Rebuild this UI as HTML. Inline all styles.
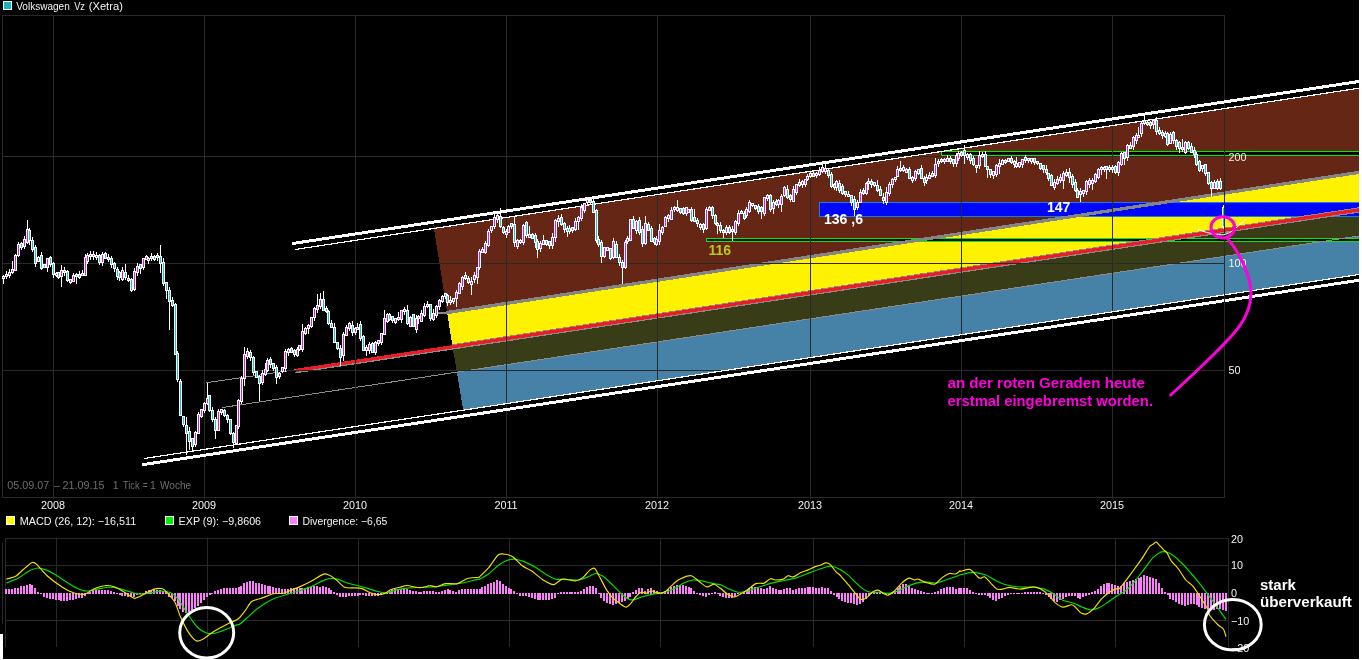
<!DOCTYPE html>
<html lang="de"><head><meta charset="utf-8"><title>Volkswagen Vz (Xetra)</title>
<style>html,body{margin:0;padding:0;background:#fff}body{width:1362px;height:660px;overflow:hidden}svg{display:block}</style>
</head><body>
<svg width="1362" height="660" viewBox="0 0 1362 660" font-family="'Liberation Sans', Arial, sans-serif">
<rect width="1362" height="660" fill="#fff"/>
<rect x="0" y="0" width="1359" height="659" fill="#000"/>
<rect x="0" y="634" width="3" height="26" fill="#fff"/>
<g shape-rendering="crispEdges">
<polygon points="433.3,224.5 436.5,228.0 1359.5,88.1 1359.5,172.3 447.2,312.5" fill="#662616"/>
<polygon points="447.2,312.5 1359.5,172.3 1359.5,209.8 452.5,346.8" fill="#fff200"/>
<polygon points="452.5,346.8 1359.5,209.8 1359.5,235.9 456.9,372.1" fill="#383d17"/>
<polygon points="456.9,372.1 1359.5,235.9 1359.5,274.4 463.2,410.2" fill="#4682a8"/>
<rect x="819.5" y="202.5" width="545" height="13.5" fill="#0006f8" stroke="#1a7ae0" stroke-width="1"/>
<rect x="941.5" y="151.5" width="430" height="4" fill="#000" stroke="#00ee00" stroke-width="1"/>
<rect x="706.5" y="238.5" width="660" height="3" fill="#000" stroke="#00ee00" stroke-width="1"/>
<path d="M437.5,313 L447,313" stroke="#8a8a8a" stroke-width="1.6"/>
<line x1="446" y1="312.7" x2="1359.5" y2="172.3" stroke="#858585" stroke-width="3.3"/>
<line x1="206.4" y1="382.7" x2="297" y2="369.6" stroke="#8c8c8c" stroke-width="1"/>
<line x1="295" y1="372.6" x2="1359.5" y2="211.8" stroke="#8a8a8a" stroke-width="1.6"/>
<line x1="452.5" y1="344.8" x2="1359.5" y2="207.8" stroke="#8a8a90" stroke-width="1.2"/>
<line x1="222" y1="407.6" x2="1359.5" y2="235.9" stroke="#8c8c8c" stroke-width="1"/>
<line x1="296" y1="370.4" x2="1359.5" y2="209.8" stroke="#ed1c24" stroke-width="3.2"/>
</g>
<g stroke="#292929" stroke-width="1" shape-rendering="crispEdges" fill="none"><rect x="2.5" y="15.5" width="1222" height="482"/><line x1="53.5" y1="15" x2="53.5" y2="499"/><line x1="204.5" y1="15" x2="204.5" y2="499"/><line x1="355.5" y1="15" x2="355.5" y2="499"/><line x1="506.5" y1="15" x2="506.5" y2="499"/><line x1="657.5" y1="15" x2="657.5" y2="499"/><line x1="810.5" y1="15" x2="810.5" y2="499"/><line x1="961.5" y1="15" x2="961.5" y2="499"/><line x1="1112.5" y1="15" x2="1112.5" y2="499"/><line x1="2" y1="156.5" x2="1225" y2="156.5"/><line x1="2" y1="263.5" x2="1225" y2="263.5"/><line x1="2" y1="370.5" x2="1225" y2="370.5"/><path d="M5.5,647 V538.5 H1228.5 V647"/><line x1="56.5" y1="538" x2="56.5" y2="647"/><line x1="207.5" y1="538" x2="207.5" y2="647"/><line x1="358.5" y1="538" x2="358.5" y2="647"/><line x1="509.5" y1="538" x2="509.5" y2="647"/><line x1="660.5" y1="538" x2="660.5" y2="647"/><line x1="813.5" y1="538" x2="813.5" y2="647"/><line x1="964.5" y1="538" x2="964.5" y2="647"/><line x1="1115.5" y1="538" x2="1115.5" y2="647"/><line x1="5" y1="565.5" x2="1228" y2="565.5"/><line x1="5" y1="620.5" x2="1228" y2="620.5"/><line x1="2.5" y1="543" x2="2.5" y2="624"/></g>
<g shape-rendering="crispEdges">
<line x1="295" y1="249.5" x2="1359.5" y2="88.1" stroke="#fff" stroke-width="1.2"/>
<line x1="292" y1="243.6" x2="1359.5" y2="81.4" stroke="#fff" stroke-width="3"/>
<line x1="144.2" y1="458.5" x2="1359.5" y2="274.4" stroke="#fff" stroke-width="1.2"/>
<line x1="142.4" y1="464.7" x2="1359.5" y2="280.2" stroke="#fff" stroke-width="3"/>
</g>
<g shape-rendering="crispEdges">
<path d="M3,274.8V283.5M6,270.8V279.1M9,268.6V278.3M12,261.3V274.1M15,254.2V271.3M18,242.2V256.6M21,241.6V249.8M24,236.3V248.9M27,220.3V243.8M29,227.5V245.3M32,237.2V252.4M35,245.1V266.7M38,256.1V262.1M41,252.1V270.4M44,264.4V268.4M47,257.6V272.4M50,255.7V267.4M53,261.5V277.7M56,272.4V277.0M58,272.2V278.8M61,265.0V287.3M64,267.3V276.3M67,269.9V281.7M70,278.6V283.7M73,272.8V281.9M76,273.0V283.9M79,270.7V279.3M82,270.4V276.2M85,253.6V275.9M87,252.8V263.5M90,251.3V259.8M93,250.6V259.5M96,252.2V260.0M99,254.1V264.7M102,252.4V265.7M105,252.4V259.2M108,254.0V261.9M111,255.9V268.0M114,261.5V271.8M117,267.4V280.0M119,271.1V280.9M122,266.5V280.7M125,263.8V280.4M128,275.1V282.0M131,278.1V292.3M134,268.1V291.2M137,262.9V276.3M140,264.1V273.7M143,257.8V270.4M146,254.8V260.2M148,257.0V263.6M151,252.8V260.9M154,254.5V261.3M157,252.5V261.3M160,245.2V273.0M163,257.8V286.2M166,281.6V299.0M169,287.0V330.0M172,297.0V307.4M175,302.7V354.4M177,350.8V381.9M180,378.5V416.2M183,415.8V427.4M186,417.4V455.0M189,427.3V449.7M192,437.8V452.0M195,430.7V446.7M198,412.4V434.1M201,409.0V417.6M204,401.5V412.9M207,382.6V405.4M209,394.8V412.3M212,406.9V421.5M215,416.7V439.0M218,409.2V430.9M221,408.9V415.3M224,409.1V416.8M227,414.2V423.1M230,418.7V434.9M233,432.1V448.0M236,425.2V443.6M238,398.9V429.1M241,375.6V404.0M244,347.0V386.4M247,347.9V359.1M250,350.4V360.5M253,355.6V374.8M256,370.5V378.2M259,374.7V400.7M262,370.0V385.0M265,363.0V376.1M267,357.5V372.3M270,357.4V367.8M273,362.7V371.3M276,364.6V384.0M279,371.7V378.6M282,366.8V372.9M285,349.3V372.4M288,348.2V355.6M291,346.6V353.1M294,348.9V356.7M297,347.1V357.2M299,344.7V350.8M302,323.5V351.7M305,327.2V334.7M308,324.2V334.4M311,316.5V327.6M314,306.9V321.1M317,294.0V312.9M320,293.3V309.1M323,290.5V311.2M326,306.0V312.5M328,310.0V325.4M331,320.0V328.2M334,323.4V343.0M337,341.7V350.0M340,345.2V366.0M343,332.1V361.4M346,324.6V336.3M349,321.7V331.2M352,320.9V335.5M355,326.9V335.3M357,323.4V330.2M360,321.3V340.5M363,334.8V350.9M366,344.5V355.8M369,342.0V353.9M372,342.2V353.3M375,340.9V354.8M378,339.5V346.0M381,333.1V345.0M384,310.0V334.8M387,312.8V322.7M389,313.4V320.9M392,315.6V323.4M395,317.6V323.9M398,312.1V320.7M401,309.8V322.5M404,306.5V315.4M407,304.8V325.4M410,315.6V327.1M413,314.1V327.3M416,315.4V333.0M418,315.2V323.7M421,310.4V321.8M424,303.4V317.0M427,300.7V308.1M430,303.7V321.4M433,309.2V321.0M436,305.0V317.9M439,299.4V309.6M442,294.8V303.1M445,293.4V299.4M447,293.5V305.8M450,296.4V305.3M453,297.8V303.9M456,290.0V307.0M459,281.9V294.3M462,275.9V289.7M465,272.2V279.5M468,275.8V283.6M471,276.7V295.0M474,271.9V283.1M477,266.6V283.8M479,248.8V269.8M482,247.0V252.5M485,240.9V253.9M488,229.2V247.2M491,225.6V233.0M494,213.5V229.2M497,213.6V222.9M500,208.1V228.0M503,225.9V234.1M506,228.7V238.0M508,224.6V233.2M511,222.5V229.3M514,216.3V246.6M517,238.7V249.0M520,239.2V243.7M523,224.4V244.6M526,220.5V238.3M529,226.2V238.1M532,232.8V239.3M535,233.1V247.7M537,239.3V258.0M540,241.2V252.1M543,235.2V245.3M546,240.1V246.1M549,241.0V249.2M552,233.4V249.4M555,219.4V241.9M558,215.2V226.5M561,214.2V225.7M564,222.4V233.0M567,225.5V236.5M569,225.4V233.5M572,227.0V232.7M575,218.3V231.4M578,216.0V229.8M581,204.2V221.3M584,202.7V213.3M587,198.9V204.7M590,197.2V204.1M593,198.7V213.0M596,209.2V243.0M598,235.5V246.7M601,239.5V262.5M604,246.6V258.0M607,247.3V251.3M610,247.6V260.0M613,238.1V259.1M616,241.2V257.5M619,254.3V265.8M622,259.8V284.0M625,239.6V269.1M627,236.4V243.8M630,218.5V240.9M633,216.2V229.4M636,219.8V233.9M639,216.8V235.4M642,225.9V246.6M645,215.5V244.6M648,221.5V230.9M651,225.6V241.8M654,236.8V245.3M656,236.1V245.6M659,224.0V244.8M662,226.2V235.1M665,216.4V227.3M668,214.4V222.1M671,207.1V219.9M674,205.6V211.8M677,199.5V212.0M680,208.5V214.2M683,207.3V215.3M686,206.5V216.2M688,209.1V212.9M691,207.0V222.2M694,208.5V221.7M697,218.0V227.1M700,222.9V230.2M703,223.0V232.7M706,206.7V230.2M709,205.6V211.2M712,206.1V218.7M715,213.7V224.6M717,222.4V234.4M720,222.0V233.3M723,229.4V237.5M726,225.3V235.4M729,224.8V233.8M732,225.9V240.8M735,220.3V235.4M738,210.3V225.8M741,209.8V214.4M744,210.8V219.7M746,207.1V218.3M749,199.9V213.4M752,203.1V206.6M755,204.5V210.1M758,204.3V214.4M761,206.3V219.0M764,197.1V215.7M767,193.6V201.3M770,194.2V212.3M773,199.8V214.0M776,198.9V206.4M778,198.8V207.5M781,194.3V211.8M784,185.8V196.6M787,184.5V198.5M790,193.9V202.0M793,186.0V201.6M796,183.7V195.2M799,178.9V186.7M802,179.7V188.1M805,178.6V187.2M807,174.0V180.5M810,171.7V178.2M813,170.3V176.8M816,172.2V177.9M819,167.1V176.3M822,164.6V172.9M825,163.5V174.0M828,169.1V177.5M831,172.1V187.8M834,183.3V189.5M836,180.3V190.7M839,180.4V192.5M842,184.0V195.2M845,190.6V197.0M848,190.7V197.1M851,194.8V205.6M854,196.4V215.8M857,200.1V209.9M860,189.3V203.4M863,187.5V195.0M866,182.3V195.2M868,177.5V189.6M871,178.9V188.0M874,182.1V187.4M877,180.4V191.5M880,185.5V196.2M883,192.5V204.0M886,187.4V204.8M889,182.1V195.6M892,178.3V187.7M895,176.5V182.4M897,166.3V177.1M900,160.7V172.0M903,165.4V172.0M906,167.6V172.9M909,166.7V179.4M912,175.5V182.6M915,170.4V180.7M918,169.2V175.2M921,165.3V178.4M924,175.9V186.2M926,174.4V184.1M929,172.4V179.4M932,171.0V177.2M935,157.7V178.4M938,158.9V167.0M941,158.4V162.9M944,157.7V163.5M947,155.0V161.9M950,155.9V163.8M953,159.1V167.0M956,153.1V166.7M958,150.6V160.6M961,151.4V157.3M964,144.6V164.0M967,153.4V159.6M970,152.8V164.1M973,156.2V166.2M976,164.9V173.3M979,151.2V168.5M982,152.0V157.6M985,151.2V167.2M987,166.1V177.6M990,168.5V177.9M993,171.4V178.9M996,163.5V177.4M999,158.6V174.3M1002,159.1V164.9M1005,159.4V164.3M1008,158.0V161.5M1011,156.3V164.2M1014,159.6V168.4M1016,156.6V167.7M1019,162.4V167.7M1022,158.6V168.1M1025,154.7V163.0M1028,157.6V162.7M1031,157.6V163.9M1034,157.8V164.7M1037,161.0V165.2M1040,163.6V169.9M1043,164.5V172.8M1046,164.9V174.8M1048,172.5V181.1M1051,174.4V186.0M1054,179.3V189.7M1057,175.9V185.3M1060,174.4V183.1M1063,171.4V189.3M1066,169.4V177.1M1069,168.3V183.0M1072,174.1V187.8M1075,179.3V192.1M1077,187.6V198.3M1080,188.2V201.7M1083,189.8V197.4M1086,179.5V195.1M1089,177.8V188.2M1092,177.9V189.9M1095,173.3V182.6M1098,168.3V179.1M1101,165.7V174.8M1104,165.8V172.2M1106,165.8V179.0M1109,164.8V172.1M1112,164.9V172.7M1115,164.8V174.1M1118,160.8V176.0M1121,151.5V165.8M1124,151.6V165.0M1127,143.7V161.1M1130,141.9V148.8M1133,135.6V149.7M1136,133.2V143.7M1138,126.6V137.8M1141,121.0V137.4M1144,115.0V124.6M1147,120.9V126.3M1150,121.2V128.7M1153,119.1V128.9M1156,116.9V134.7M1159,126.6V134.8M1162,130.3V138.7M1165,131.4V138.2M1167,132.2V146.0M1170,131.7V143.8M1173,130.5V144.1M1176,138.8V149.7M1179,141.4V152.6M1182,139.0V152.3M1185,141.0V154.0M1188,140.5V149.9M1191,143.2V152.4M1194,147.2V158.0M1196,151.8V166.1M1199,160.2V172.3M1202,164.7V172.0M1205,163.8V176.3M1208,172.0V185.2M1211,180.8V196.6M1214,180.3V189.2M1217,179.0V189.8M1220,177.8V189.9M1223,204.9V229.3" stroke="#fff" stroke-width="1" fill="none" transform="translate(0.5,0)"/>
<path d="M2,276.0h3V279.0h-3zM5,274.0h3V277.0h-3zM8,272.0h3V276.0h-3zM11,269.0h3V273.0h-3zM14,255.0h3V271.0h-3zM17,244.0h3V256.0h-3zM20,243.0h3V248.0h-3zM23,239.0h3V247.0h-3zM26,229.0h3V243.0h-3zM28,230.0h3V241.0h-3zM31,240.0h3V250.0h-3zM34,247.0h3V264.0h-3zM37,257.0h3V262.0h-3zM40,255.0h3V269.0h-3zM43,264.0h3V268.0h-3zM46,258.0h3V268.0h-3zM49,257.0h3V265.0h-3zM52,263.0h3V275.0h-3zM55,273.0h3V276.0h-3zM57,272.0h3V278.0h-3zM60,270.0h3V277.0h-3zM63,270.0h3V273.0h-3zM66,271.0h3V281.0h-3zM69,279.0h3V283.0h-3zM72,275.0h3V282.0h-3zM75,274.0h3V277.0h-3zM78,274.0h3V278.0h-3zM81,273.0h3V276.0h-3zM84,257.0h3V276.0h-3zM86,255.0h3V262.0h-3zM89,254.0h3V257.0h-3zM92,254.0h3V257.0h-3zM95,255.0h3V258.0h-3zM98,255.0h3V263.0h-3zM101,254.0h3V263.0h-3zM104,253.0h3V259.0h-3zM107,257.0h3V260.0h-3zM110,258.0h3V265.0h-3zM113,263.0h3V269.0h-3zM116,269.0h3V277.0h-3zM118,272.0h3V278.0h-3zM121,270.0h3V280.0h-3zM124,272.0h3V278.0h-3zM127,278.0h3V281.0h-3zM130,279.0h3V291.0h-3zM133,271.0h3V290.0h-3zM136,266.0h3V273.0h-3zM139,264.0h3V269.0h-3zM142,258.0h3V268.0h-3zM145,256.0h3V260.0h-3zM147,258.0h3V261.0h-3zM150,256.0h3V259.0h-3zM153,256.0h3V260.0h-3zM156,255.0h3V258.0h-3zM159,256.0h3V264.0h-3zM162,262.0h3V284.0h-3zM165,282.0h3V291.0h-3zM168,290.0h3V302.0h-3zM171,300.0h3V306.0h-3zM174,304.0h3V355.0h-3zM176,353.0h3V380.0h-3zM179,381.0h3V416.0h-3zM182,416.0h3V425.0h-3zM185,425.0h3V434.0h-3zM188,431.0h3V442.0h-3zM191,438.0h3V447.0h-3zM194,432.0h3V445.0h-3zM197,414.0h3V434.0h-3zM200,409.0h3V417.0h-3zM203,403.0h3V411.0h-3zM206,398.0h3V404.0h-3zM208,395.0h3V411.0h-3zM211,410.0h3V420.0h-3zM214,419.0h3V431.0h-3zM217,411.0h3V431.0h-3zM220,409.0h3V413.0h-3zM223,410.0h3V416.0h-3zM226,415.0h3V420.0h-3zM229,419.0h3V434.0h-3zM232,433.0h3V443.0h-3zM235,425.0h3V444.0h-3zM237,400.0h3V427.0h-3zM240,378.0h3V402.0h-3zM243,354.0h3V379.0h-3zM246,351.0h3V357.0h-3zM249,352.0h3V358.0h-3zM252,357.0h3V373.0h-3zM255,371.0h3V378.0h-3zM258,376.0h3V384.0h-3zM261,373.0h3V383.0h-3zM264,369.0h3V375.0h-3zM266,360.0h3V371.0h-3zM269,359.0h3V365.0h-3zM272,363.0h3V369.0h-3zM275,367.0h3V378.0h-3zM278,373.0h3V377.0h-3zM281,367.0h3V372.0h-3zM284,351.0h3V369.0h-3zM287,349.0h3V353.0h-3zM290,348.0h3V353.0h-3zM293,350.0h3V355.0h-3zM296,349.0h3V356.0h-3zM298,345.0h3V350.0h-3zM301,331.0h3V350.0h-3zM304,328.0h3V334.0h-3zM307,325.0h3V329.0h-3zM310,317.0h3V327.0h-3zM313,308.0h3V318.0h-3zM316,305.0h3V310.0h-3zM319,299.0h3V307.0h-3zM322,299.0h3V311.0h-3zM325,308.0h3V312.0h-3zM327,311.0h3V324.0h-3zM330,323.0h3V328.0h-3zM333,327.0h3V343.0h-3zM336,342.0h3V349.0h-3zM339,348.0h3V358.0h-3zM342,334.0h3V356.0h-3zM345,327.0h3V336.0h-3zM348,323.0h3V329.0h-3zM351,325.0h3V333.0h-3zM354,328.0h3V333.0h-3zM356,327.0h3V330.0h-3zM359,324.0h3V339.0h-3zM362,336.0h3V351.0h-3zM365,347.0h3V351.0h-3zM368,344.0h3V351.0h-3zM371,343.0h3V353.0h-3zM374,342.0h3V353.0h-3zM377,340.0h3V344.0h-3zM380,333.0h3V343.0h-3zM383,318.0h3V335.0h-3zM386,314.0h3V322.0h-3zM388,314.0h3V320.0h-3zM391,316.0h3V321.0h-3zM394,318.0h3V323.0h-3zM397,317.0h3V320.0h-3zM400,310.0h3V320.0h-3zM403,309.0h3V312.0h-3zM406,310.0h3V324.0h-3zM409,317.0h3V327.0h-3zM412,314.0h3V327.0h-3zM415,318.0h3V330.0h-3zM417,316.0h3V319.0h-3zM420,313.0h3V322.0h-3zM423,306.0h3V316.0h-3zM426,304.0h3V307.0h-3zM429,304.0h3V319.0h-3zM432,313.0h3V320.0h-3zM435,306.0h3V316.0h-3zM438,300.0h3V307.0h-3zM441,296.0h3V302.0h-3zM444,293.0h3V297.0h-3zM446,295.0h3V303.0h-3zM449,300.0h3V303.0h-3zM452,298.0h3V302.0h-3zM455,292.0h3V299.0h-3zM458,283.0h3V294.0h-3zM461,277.0h3V287.0h-3zM464,275.0h3V279.0h-3zM467,278.0h3V283.0h-3zM470,281.0h3V285.0h-3zM473,275.0h3V280.0h-3zM476,267.0h3V278.0h-3zM478,251.0h3V268.0h-3zM481,249.0h3V253.0h-3zM484,243.0h3V253.0h-3zM487,231.0h3V246.0h-3zM490,226.0h3V231.0h-3zM493,217.0h3V227.0h-3zM496,215.0h3V220.0h-3zM499,216.0h3V227.0h-3zM502,227.0h3V233.0h-3zM505,231.0h3V235.0h-3zM507,226.0h3V233.0h-3zM510,223.0h3V227.0h-3zM513,224.0h3V243.0h-3zM516,240.0h3V247.0h-3zM519,240.0h3V243.0h-3zM522,225.0h3V243.0h-3zM525,222.0h3V236.0h-3zM528,234.0h3V238.0h-3zM531,234.0h3V239.0h-3zM534,235.0h3V243.0h-3zM536,241.0h3V250.0h-3zM539,243.0h3V249.0h-3zM542,240.0h3V245.0h-3zM545,240.0h3V245.0h-3zM548,241.0h3V246.0h-3zM551,237.0h3V246.0h-3zM554,220.0h3V238.0h-3zM557,218.0h3V222.0h-3zM560,217.0h3V225.0h-3zM563,223.0h3V230.0h-3zM566,228.0h3V232.0h-3zM568,228.0h3V232.0h-3zM571,227.0h3V231.0h-3zM574,221.0h3V230.0h-3zM577,217.0h3V222.0h-3zM580,207.0h3V219.0h-3zM583,203.0h3V211.0h-3zM586,199.0h3V203.0h-3zM589,200.0h3V203.0h-3zM592,201.0h3V213.0h-3zM595,210.0h3V241.0h-3zM597,239.0h3V245.0h-3zM600,242.0h3V257.0h-3zM603,247.0h3V257.0h-3zM606,247.0h3V251.0h-3zM609,248.0h3V259.0h-3zM612,241.0h3V258.0h-3zM615,244.0h3V258.0h-3zM618,257.0h3V263.0h-3zM621,262.0h3V268.0h-3zM624,242.0h3V268.0h-3zM626,238.0h3V242.0h-3zM629,219.0h3V241.0h-3zM632,219.0h3V229.0h-3zM635,221.0h3V231.0h-3zM638,220.0h3V233.0h-3zM641,229.0h3V244.0h-3zM644,223.0h3V244.0h-3zM647,224.0h3V231.0h-3zM650,228.0h3V242.0h-3zM653,238.0h3V243.0h-3zM655,239.0h3V245.0h-3zM658,230.0h3V242.0h-3zM661,227.0h3V233.0h-3zM664,217.0h3V227.0h-3zM667,215.0h3V219.0h-3zM670,210.0h3V220.0h-3zM673,207.0h3V210.0h-3zM676,207.0h3V211.0h-3zM679,208.0h3V213.0h-3zM682,208.0h3V214.0h-3zM685,207.0h3V214.0h-3zM687,209.0h3V213.0h-3zM690,209.0h3V221.0h-3zM693,217.0h3V222.0h-3zM696,220.0h3V224.0h-3zM699,224.0h3V228.0h-3zM702,224.0h3V230.0h-3zM705,209.0h3V229.0h-3zM708,207.0h3V211.0h-3zM711,207.0h3V216.0h-3zM714,215.0h3V224.0h-3zM716,223.0h3V226.0h-3zM719,225.0h3V231.0h-3zM722,230.0h3V233.0h-3zM725,227.0h3V233.0h-3zM728,227.0h3V233.0h-3zM731,229.0h3V232.0h-3zM734,221.0h3V233.0h-3zM737,213.0h3V224.0h-3zM740,211.0h3V214.0h-3zM743,213.0h3V219.0h-3zM745,209.0h3V216.0h-3zM748,202.0h3V212.0h-3zM751,203.0h3V206.0h-3zM754,205.0h3V209.0h-3zM757,206.0h3V212.0h-3zM760,207.0h3V212.0h-3zM763,197.0h3V214.0h-3zM766,195.0h3V199.0h-3zM769,195.0h3V210.0h-3zM772,202.0h3V209.0h-3zM775,201.0h3V205.0h-3zM777,200.0h3V205.0h-3zM780,196.0h3V205.0h-3zM783,187.0h3V196.0h-3zM786,189.0h3V198.0h-3zM789,195.0h3V200.0h-3zM792,189.0h3V202.0h-3zM795,184.0h3V193.0h-3zM798,182.0h3V186.0h-3zM801,181.0h3V185.0h-3zM804,179.0h3V185.0h-3zM806,176.0h3V180.0h-3zM809,173.0h3V177.0h-3zM812,173.0h3V177.0h-3zM815,173.0h3V176.0h-3zM818,170.0h3V175.0h-3zM821,167.0h3V172.0h-3zM824,168.0h3V172.0h-3zM827,170.0h3V176.0h-3zM830,174.0h3V187.0h-3zM833,184.0h3V188.0h-3zM835,181.0h3V188.0h-3zM838,183.0h3V191.0h-3zM841,186.0h3V194.0h-3zM844,191.0h3V195.0h-3zM847,194.0h3V197.0h-3zM850,195.0h3V203.0h-3zM853,199.0h3V210.0h-3zM856,202.0h3V208.0h-3zM859,192.0h3V203.0h-3zM862,190.0h3V194.0h-3zM865,183.0h3V194.0h-3zM867,181.0h3V184.0h-3zM870,181.0h3V185.0h-3zM873,182.0h3V186.0h-3zM876,185.0h3V191.0h-3zM879,189.0h3V196.0h-3zM882,197.0h3V201.0h-3zM885,192.0h3V203.0h-3zM888,184.0h3V194.0h-3zM891,179.0h3V185.0h-3zM894,177.0h3V180.0h-3zM896,169.0h3V177.0h-3zM899,168.0h3V171.0h-3zM902,167.0h3V171.0h-3zM905,169.0h3V173.0h-3zM908,169.0h3V179.0h-3zM911,177.0h3V181.0h-3zM914,171.0h3V179.0h-3zM917,169.0h3V174.0h-3zM920,168.0h3V179.0h-3zM923,178.0h3V183.0h-3zM925,177.0h3V181.0h-3zM928,175.0h3V179.0h-3zM931,173.0h3V177.0h-3zM934,164.0h3V176.0h-3zM937,161.0h3V164.0h-3zM940,159.0h3V162.0h-3zM943,159.0h3V162.0h-3zM946,158.0h3V162.0h-3zM949,158.0h3V162.0h-3zM952,159.0h3V164.0h-3zM955,155.0h3V164.0h-3zM957,153.0h3V159.0h-3zM960,152.0h3V156.0h-3zM963,150.0h3V156.0h-3zM966,154.0h3V158.0h-3zM969,154.0h3V161.0h-3zM972,158.0h3V165.0h-3zM975,165.0h3V168.0h-3zM978,155.0h3V166.0h-3zM981,154.0h3V157.0h-3zM984,154.0h3V167.0h-3zM986,166.0h3V170.0h-3zM989,169.0h3V175.0h-3zM992,171.0h3V176.0h-3zM995,165.0h3V175.0h-3zM998,163.0h3V167.0h-3zM1001,160.0h3V165.0h-3zM1004,160.0h3V163.0h-3zM1007,158.0h3V162.0h-3zM1010,158.0h3V163.0h-3zM1013,161.0h3V165.0h-3zM1015,163.0h3V167.0h-3zM1018,162.0h3V167.0h-3zM1021,159.0h3V165.0h-3zM1024,157.0h3V161.0h-3zM1027,158.0h3V161.0h-3zM1030,158.0h3V162.0h-3zM1033,158.0h3V163.0h-3zM1036,161.0h3V164.0h-3zM1039,163.0h3V169.0h-3zM1042,165.0h3V170.0h-3zM1045,169.0h3V173.0h-3zM1047,173.0h3V179.0h-3zM1050,175.0h3V186.0h-3zM1053,182.0h3V188.0h-3zM1056,179.0h3V184.0h-3zM1059,177.0h3V181.0h-3zM1062,173.0h3V181.0h-3zM1065,172.0h3V176.0h-3zM1068,172.0h3V178.0h-3zM1071,176.0h3V185.0h-3zM1074,182.0h3V191.0h-3zM1076,190.0h3V198.0h-3zM1079,191.0h3V195.0h-3zM1082,190.0h3V194.0h-3zM1085,181.0h3V192.0h-3zM1088,180.0h3V185.0h-3zM1091,180.0h3V184.0h-3zM1094,174.0h3V182.0h-3zM1097,169.0h3V178.0h-3zM1100,167.0h3V170.0h-3zM1103,167.0h3V170.0h-3zM1105,166.0h3V170.0h-3zM1108,167.0h3V170.0h-3zM1111,167.0h3V170.0h-3zM1114,166.0h3V173.0h-3zM1117,162.0h3V173.0h-3zM1120,153.0h3V165.0h-3zM1123,152.0h3V159.0h-3zM1126,145.0h3V158.0h-3zM1129,145.0h3V149.0h-3zM1132,137.0h3V147.0h-3zM1135,135.0h3V141.0h-3zM1137,135.0h3V138.0h-3zM1140,123.0h3V134.0h-3zM1143,120.0h3V124.0h-3zM1146,122.0h3V125.0h-3zM1149,122.0h3V126.0h-3zM1152,120.0h3V125.0h-3zM1155,120.0h3V132.0h-3zM1158,130.0h3V134.0h-3zM1161,132.0h3V136.0h-3zM1164,133.0h3V137.0h-3zM1166,133.0h3V145.0h-3zM1169,134.0h3V144.0h-3zM1172,132.0h3V141.0h-3zM1175,140.0h3V147.0h-3zM1178,142.0h3V149.0h-3zM1181,147.0h3V150.0h-3zM1184,142.0h3V153.0h-3zM1187,142.0h3V149.0h-3zM1190,146.0h3V153.0h-3zM1193,150.0h3V155.0h-3zM1195,154.0h3V165.0h-3zM1198,161.0h3V171.0h-3zM1201,165.0h3V169.0h-3zM1204,164.0h3V174.0h-3zM1207,172.0h3V184.0h-3zM1210,182.0h3V189.0h-3zM1213,182.0h3V189.0h-3zM1216,181.0h3V189.0h-3zM1219,181.0h3V189.0h-3zM1222,207.0h3V227.0h-3z" fill="#fff" stroke="none"/>
<path d="M3,277.0V278.0M6,275.0V276.0M9,273.0V275.0M12,270.0V272.0M15,256.0V270.0M18,245.0V255.0M24,240.0V246.0M27,230.0V242.0M38,258.0V261.0M47,259.0V267.0M56,274.0V275.0M61,271.0V276.0M70,280.0V282.0M73,276.0V281.0M82,274.0V275.0M85,258.0V275.0M87,256.0V261.0M90,255.0V256.0M93,255.0V256.0M96,256.0V257.0M102,255.0V262.0M122,271.0V279.0M134,272.0V289.0M137,267.0V272.0M143,259.0V267.0M146,257.0V259.0M148,259.0V260.0M195,433.0V444.0M198,415.0V433.0M201,410.0V416.0M204,404.0V410.0M207,399.0V403.0M218,412.0V430.0M221,410.0V412.0M236,426.0V443.0M238,401.0V426.0M241,379.0V401.0M244,355.0V378.0M247,352.0V356.0M262,374.0V382.0M265,370.0V374.0M267,361.0V370.0M279,374.0V376.0M282,368.0V371.0M285,352.0V368.0M288,350.0V352.0M297,350.0V355.0M299,346.0V349.0M302,332.0V349.0M305,329.0V333.0M308,326.0V328.0M311,318.0V326.0M314,309.0V317.0M317,306.0V309.0M320,300.0V306.0M343,335.0V355.0M346,328.0V335.0M349,324.0V328.0M355,329.0V332.0M357,328.0V329.0M366,348.0V350.0M369,345.0V350.0M375,343.0V352.0M378,341.0V343.0M381,334.0V342.0M384,319.0V334.0M387,315.0V321.0M395,319.0V322.0M398,318.0V319.0M401,311.0V319.0M404,310.0V311.0M410,318.0V326.0M416,319.0V329.0M421,314.0V321.0M424,307.0V315.0M427,305.0V306.0M433,314.0V319.0M436,307.0V315.0M439,301.0V306.0M442,297.0V301.0M450,301.0V302.0M453,299.0V301.0M456,293.0V298.0M459,284.0V293.0M462,278.0V286.0M471,282.0V284.0M474,276.0V279.0M477,268.0V277.0M479,252.0V267.0M482,250.0V252.0M485,244.0V252.0M488,232.0V245.0M491,227.0V230.0M494,218.0V226.0M497,216.0V219.0M506,232.0V234.0M508,227.0V232.0M517,241.0V246.0M520,241.0V242.0M523,226.0V242.0M529,235.0V237.0M540,244.0V248.0M543,241.0V244.0M552,238.0V245.0M555,221.0V237.0M558,219.0V221.0M575,222.0V229.0M578,218.0V221.0M581,208.0V218.0M584,204.0V210.0M587,200.0V202.0M604,248.0V256.0M607,248.0V250.0M613,242.0V257.0M625,243.0V267.0M627,239.0V241.0M630,220.0V240.0M636,222.0V230.0M645,224.0V243.0M656,240.0V244.0M659,231.0V241.0M662,228.0V232.0M665,218.0V226.0M668,216.0V218.0M671,211.0V219.0M674,208.0V209.0M677,208.0V210.0M686,208.0V213.0M688,210.0V212.0M700,225.0V227.0M706,210.0V228.0M709,208.0V210.0M726,228.0V232.0M735,222.0V232.0M738,214.0V223.0M746,210.0V215.0M749,203.0V211.0M752,204.0V205.0M764,198.0V213.0M767,196.0V198.0M773,203.0V208.0M778,201.0V204.0M781,197.0V204.0M784,188.0V195.0M793,190.0V201.0M796,185.0V192.0M802,182.0V184.0M805,180.0V184.0M807,177.0V179.0M810,174.0V176.0M816,174.0V175.0M819,171.0V174.0M822,168.0V171.0M825,169.0V171.0M836,182.0V187.0M848,195.0V196.0M857,203.0V207.0M860,193.0V202.0M866,184.0V193.0M886,193.0V202.0M889,185.0V193.0M892,180.0V184.0M895,178.0V179.0M897,170.0V176.0M903,168.0V170.0M906,170.0V172.0M912,178.0V180.0M915,172.0V178.0M918,170.0V173.0M926,178.0V180.0M929,176.0V178.0M935,165.0V175.0M944,160.0V161.0M947,159.0V161.0M956,156.0V163.0M958,154.0V158.0M967,155.0V157.0M979,156.0V165.0M993,172.0V175.0M996,166.0V174.0M999,164.0V166.0M1002,161.0V164.0M1008,159.0V161.0M1016,164.0V166.0M1019,163.0V166.0M1022,160.0V164.0M1031,159.0V161.0M1054,183.0V187.0M1057,180.0V183.0M1060,178.0V180.0M1063,174.0V180.0M1066,173.0V175.0M1080,192.0V194.0M1083,191.0V193.0M1086,182.0V191.0M1089,181.0V184.0M1092,181.0V183.0M1095,175.0V181.0M1098,170.0V177.0M1101,168.0V169.0M1104,168.0V169.0M1109,168.0V169.0M1118,163.0V172.0M1121,154.0V164.0M1127,146.0V157.0M1133,138.0V146.0M1136,136.0V140.0M1138,136.0V137.0M1141,124.0V133.0M1153,121.0V124.0M1165,134.0V136.0M1170,135.0V143.0M1185,143.0V152.0M1202,166.0V168.0M1214,183.0V188.0" stroke="#dc18dc" stroke-width="1" fill="none" transform="translate(0.5,0)"/>
<path d="M21,244.0V247.0M29,231.0V240.0M32,241.0V249.0M35,248.0V263.0M41,256.0V268.0M44,265.0V267.0M50,258.0V264.0M53,264.0V274.0M58,273.0V277.0M64,271.0V272.0M67,272.0V280.0M76,275.0V276.0M79,275.0V277.0M99,256.0V262.0M105,254.0V258.0M108,258.0V259.0M111,259.0V264.0M114,264.0V268.0M117,270.0V276.0M119,273.0V277.0M125,273.0V277.0M128,279.0V280.0M131,280.0V290.0M140,265.0V268.0M151,257.0V258.0M154,257.0V259.0M157,256.0V257.0M160,257.0V263.0M163,263.0V283.0M166,283.0V290.0M169,291.0V301.0M172,301.0V305.0M175,305.0V354.0M177,354.0V379.0M180,382.0V415.0M183,417.0V424.0M186,426.0V433.0M189,432.0V441.0M192,439.0V446.0M209,396.0V410.0M212,411.0V419.0M215,420.0V430.0M224,411.0V415.0M227,416.0V419.0M230,420.0V433.0M233,434.0V442.0M250,353.0V357.0M253,358.0V372.0M256,372.0V377.0M259,377.0V383.0M270,360.0V364.0M273,364.0V368.0M276,368.0V377.0M291,349.0V352.0M294,351.0V354.0M323,300.0V310.0M326,309.0V311.0M328,312.0V323.0M331,324.0V327.0M334,328.0V342.0M337,343.0V348.0M340,349.0V357.0M352,326.0V332.0M360,325.0V338.0M363,337.0V350.0M372,344.0V352.0M389,315.0V319.0M392,317.0V320.0M407,311.0V323.0M413,315.0V326.0M418,317.0V318.0M430,305.0V318.0M445,294.0V296.0M447,296.0V302.0M465,276.0V278.0M468,279.0V282.0M500,217.0V226.0M503,228.0V232.0M511,224.0V226.0M514,225.0V242.0M526,223.0V235.0M532,235.0V238.0M535,236.0V242.0M537,242.0V249.0M546,241.0V244.0M549,242.0V245.0M561,218.0V224.0M564,224.0V229.0M567,229.0V231.0M569,229.0V231.0M572,228.0V230.0M590,201.0V202.0M593,202.0V212.0M596,211.0V240.0M598,240.0V244.0M601,243.0V256.0M610,249.0V258.0M616,245.0V257.0M619,258.0V262.0M622,263.0V267.0M633,220.0V228.0M639,221.0V232.0M642,230.0V243.0M648,225.0V230.0M651,229.0V241.0M654,239.0V242.0M680,209.0V212.0M683,209.0V213.0M691,210.0V220.0M694,218.0V221.0M697,221.0V223.0M703,225.0V229.0M712,208.0V215.0M715,216.0V223.0M717,224.0V225.0M720,226.0V230.0M723,231.0V232.0M729,228.0V232.0M732,230.0V231.0M741,212.0V213.0M744,214.0V218.0M755,206.0V208.0M758,207.0V211.0M761,208.0V211.0M770,196.0V209.0M776,202.0V204.0M787,190.0V197.0M790,196.0V199.0M799,183.0V185.0M813,174.0V176.0M828,171.0V175.0M831,175.0V186.0M834,185.0V187.0M839,184.0V190.0M842,187.0V193.0M845,192.0V194.0M851,196.0V202.0M854,200.0V209.0M863,191.0V193.0M868,182.0V183.0M871,182.0V184.0M874,183.0V185.0M877,186.0V190.0M880,190.0V195.0M883,198.0V200.0M900,169.0V170.0M909,170.0V178.0M921,169.0V178.0M924,179.0V182.0M932,174.0V176.0M938,162.0V163.0M941,160.0V161.0M950,159.0V161.0M953,160.0V163.0M961,153.0V155.0M964,151.0V155.0M970,155.0V160.0M973,159.0V164.0M976,166.0V167.0M982,155.0V156.0M985,155.0V166.0M987,167.0V169.0M990,170.0V174.0M1005,161.0V162.0M1011,159.0V162.0M1014,162.0V164.0M1025,158.0V160.0M1028,159.0V160.0M1034,159.0V162.0M1037,162.0V163.0M1040,164.0V168.0M1043,166.0V169.0M1046,170.0V172.0M1048,174.0V178.0M1051,176.0V185.0M1069,173.0V177.0M1072,177.0V184.0M1075,183.0V190.0M1077,191.0V197.0M1106,167.0V169.0M1112,168.0V169.0M1115,167.0V172.0M1124,153.0V158.0M1130,146.0V148.0M1144,121.0V123.0M1147,123.0V124.0M1150,123.0V125.0M1156,121.0V131.0M1159,131.0V133.0M1162,133.0V135.0M1167,134.0V144.0M1173,133.0V140.0M1176,141.0V146.0M1179,143.0V148.0M1182,148.0V149.0M1188,143.0V148.0M1191,147.0V152.0M1194,151.0V154.0M1196,155.0V164.0M1199,162.0V170.0M1205,165.0V173.0M1208,173.0V183.0M1211,183.0V188.0M1217,182.0V188.0M1220,182.0V188.0M1223,208.0V226.0" stroke="#18c4c4" stroke-width="1" fill="none" transform="translate(0.5,0)"/>
</g>
<line x1="1224.5" y1="110" x2="1224.5" y2="498" stroke="#292929" stroke-width="1" shape-rendering="crispEdges"/>
<path d="M5,588.8h2v5.2h-2zM8,588.8h2v5.2h-2zM11,588.7h2v5.3h-2zM14,588.4h2v5.6h-2zM17,587.6h2v6.4h-2zM20,586.2h2v7.8h-2zM23,585.5h2v8.5h-2zM26,584.8h2v9.2h-2zM29,584.0h2v10.0h-2zM31,584.6h2v9.4h-2zM34,587.9h2v6.1h-2zM37,592.3h2v1.7h-2zM40,593.0h2v0.7h-2zM43,593.0h2v4.0h-2zM46,593.0h2v4.8h-2zM49,593.0h2v5.6h-2zM52,593.0h2v6.1h-2zM55,593.0h2v6.7h-2zM58,593.0h2v7.3h-2zM60,593.0h2v7.5h-2zM63,593.0h2v7.7h-2zM66,593.0h2v7.5h-2zM69,593.0h2v7.2h-2zM72,593.0h2v6.5h-2zM75,593.0h2v5.8h-2zM78,593.0h2v5.3h-2zM81,593.0h2v4.5h-2zM84,593.0h2v3.4h-2zM87,593.0h2v0.9h-2zM89,591.6h2v2.4h-2zM92,590.4h2v3.6h-2zM95,590.0h2v4.0h-2zM98,589.7h2v4.3h-2zM101,589.7h2v4.3h-2zM104,589.8h2v4.2h-2zM107,590.2h2v3.8h-2zM110,591.0h2v3.0h-2zM113,592.3h2v1.7h-2zM116,593.0h2v0.9h-2zM119,593.0h2v2.0h-2zM121,593.0h2v2.9h-2zM124,593.0h2v3.4h-2zM127,593.0h2v3.6h-2zM130,593.0h2v3.8h-2zM133,593.0h2v4.0h-2zM136,593.0h2v1.8h-2zM139,593.0h2v0.8h-2zM142,593.0h2v0.7h-2zM145,591.3h2v2.7h-2zM148,590.3h2v3.7h-2zM150,589.8h2v4.2h-2zM153,589.3h2v4.7h-2zM156,589.5h2v4.5h-2zM159,589.9h2v4.1h-2zM162,591.0h2v3.0h-2zM165,592.2h2v1.8h-2zM168,593.0h2v4.1h-2zM171,593.0h2v5.3h-2zM174,593.0h2v7.9h-2zM177,593.0h2v13.2h-2zM179,593.0h2v15.6h-2zM182,593.0h2v18.8h-2zM185,593.0h2v19.7h-2zM188,593.0h2v18.7h-2zM191,593.0h2v16.8h-2zM194,593.0h2v15.1h-2zM197,593.0h2v12.8h-2zM200,593.0h2v10.1h-2zM203,593.0h2v7.2h-2zM206,593.0h2v4.4h-2zM209,593.0h2v2.1h-2zM211,593.0h2v0.7h-2zM214,591.3h2v2.7h-2zM217,589.5h2v4.5h-2zM220,588.5h2v5.5h-2zM223,588.1h2v5.9h-2zM226,588.0h2v6.0h-2zM229,587.9h2v6.1h-2zM232,587.9h2v6.1h-2zM235,587.9h2v6.1h-2zM238,587.1h2v6.9h-2zM240,585.8h2v8.2h-2zM243,583.1h2v10.9h-2zM246,581.6h2v12.4h-2zM249,580.8h2v13.2h-2zM252,581.1h2v12.9h-2zM255,582.5h2v11.5h-2zM258,583.3h2v10.7h-2zM261,584.3h2v9.7h-2zM264,585.1h2v8.9h-2zM267,585.7h2v8.3h-2zM269,585.9h2v8.1h-2zM272,586.5h2v7.5h-2zM275,587.6h2v6.4h-2zM278,588.3h2v5.7h-2zM281,588.7h2v5.3h-2zM284,588.8h2v5.2h-2zM287,588.5h2v5.5h-2zM290,588.2h2v5.8h-2zM293,587.9h2v6.1h-2zM296,587.7h2v6.3h-2zM299,587.5h2v6.5h-2zM301,587.5h2v6.5h-2zM304,587.5h2v6.5h-2zM307,587.3h2v6.7h-2zM310,587.0h2v7.0h-2zM313,586.2h2v7.8h-2zM316,585.8h2v8.2h-2zM319,586.6h2v7.4h-2zM322,585.7h2v8.3h-2zM325,587.2h2v6.8h-2zM328,588.1h2v5.9h-2zM330,589.9h2v4.1h-2zM333,592.3h2v1.7h-2zM336,593.0h2v1.6h-2zM339,593.0h2v3.7h-2zM342,593.0h2v4.2h-2zM345,593.0h2v4.4h-2zM348,593.0h2v3.4h-2zM351,593.0h2v3.0h-2zM354,593.0h2v2.8h-2zM357,593.0h2v2.5h-2zM359,593.0h2v2.3h-2zM362,593.0h2v2.4h-2zM365,593.0h2v2.7h-2zM368,593.0h2v2.9h-2zM371,593.0h2v3.1h-2zM374,593.0h2v3.1h-2zM377,593.0h2v3.0h-2zM380,593.0h2v2.0h-2zM383,593.0h2v0.9h-2zM386,592.3h2v1.7h-2zM389,590.8h2v3.2h-2zM391,589.3h2v4.7h-2zM394,589.1h2v4.9h-2zM397,589.0h2v5.0h-2zM400,589.0h2v5.0h-2zM403,589.1h2v4.9h-2zM406,589.4h2v4.6h-2zM409,589.9h2v4.1h-2zM412,590.6h2v3.4h-2zM415,591.1h2v2.9h-2zM418,591.5h2v2.5h-2zM420,591.5h2v2.5h-2zM423,591.3h2v2.7h-2zM426,590.7h2v3.3h-2zM429,590.6h2v3.4h-2zM432,591.4h2v2.6h-2zM435,591.7h2v2.3h-2zM438,591.9h2v2.1h-2zM441,590.8h2v3.2h-2zM444,589.8h2v4.2h-2zM447,589.4h2v4.6h-2zM449,590.0h2v4.0h-2zM452,590.9h2v3.1h-2zM455,591.5h2v2.5h-2zM458,590.3h2v3.7h-2zM461,589.1h2v4.9h-2zM464,588.6h2v5.4h-2zM467,588.6h2v5.4h-2zM470,588.9h2v5.1h-2zM473,589.1h2v4.9h-2zM476,589.3h2v4.7h-2zM479,588.5h2v5.5h-2zM481,587.3h2v6.7h-2zM484,586.3h2v7.7h-2zM487,584.4h2v9.6h-2zM490,583.0h2v11.0h-2zM493,581.8h2v12.2h-2zM496,580.4h2v13.6h-2zM499,581.3h2v12.7h-2zM502,583.6h2v10.4h-2zM505,585.6h2v8.4h-2zM508,587.8h2v6.2h-2zM510,589.2h2v4.8h-2zM513,591.3h2v2.7h-2zM516,593.0h2v1.2h-2zM519,593.0h2v2.6h-2zM522,593.0h2v3.0h-2zM525,593.0h2v3.3h-2zM528,593.0h2v4.0h-2zM531,593.0h2v4.7h-2zM534,593.0h2v5.7h-2zM537,593.0h2v6.6h-2zM539,593.0h2v7.4h-2zM542,593.0h2v7.4h-2zM545,593.0h2v7.0h-2zM548,593.0h2v6.6h-2zM551,593.0h2v5.9h-2zM554,593.0h2v4.7h-2zM557,593.0h2v1.1h-2zM560,592.3h2v1.7h-2zM563,591.9h2v2.1h-2zM566,591.8h2v2.2h-2zM569,592.3h2v1.7h-2zM571,592.3h2v1.7h-2zM574,592.3h2v1.7h-2zM577,592.3h2v1.7h-2zM580,591.4h2v2.6h-2zM583,589.4h2v4.6h-2zM586,587.2h2v6.8h-2zM589,585.8h2v8.2h-2zM592,585.9h2v8.1h-2zM595,588.4h2v5.6h-2zM598,593.0h2v1.1h-2zM600,593.0h2v4.9h-2zM603,593.0h2v8.3h-2zM606,593.0h2v10.3h-2zM609,593.0h2v11.3h-2zM612,593.0h2v11.9h-2zM615,593.0h2v10.5h-2zM618,593.0h2v9.7h-2zM621,593.0h2v9.1h-2zM624,593.0h2v8.3h-2zM627,593.0h2v6.3h-2zM629,593.0h2v3.7h-2zM632,592.3h2v1.7h-2zM635,589.5h2v4.5h-2zM638,587.8h2v6.2h-2zM641,587.8h2v6.2h-2zM644,590.6h2v3.4h-2zM647,589.0h2v5.0h-2zM650,588.1h2v5.9h-2zM653,590.3h2v3.7h-2zM656,591.3h2v2.7h-2zM658,591.9h2v2.1h-2zM661,591.7h2v2.3h-2zM664,590.7h2v3.3h-2zM667,589.3h2v4.7h-2zM670,586.7h2v7.3h-2zM673,585.7h2v8.3h-2zM676,585.2h2v8.8h-2zM679,584.9h2v9.1h-2zM682,585.0h2v9.0h-2zM685,585.9h2v8.1h-2zM688,586.8h2v7.2h-2zM690,587.9h2v6.1h-2zM693,591.1h2v2.9h-2zM696,593.0h2v0.7h-2zM699,593.0h2v2.1h-2zM702,593.0h2v3.1h-2zM705,593.0h2v3.6h-2zM708,593.0h2v1.8h-2zM711,593.0h2v0.8h-2zM714,592.3h2v1.7h-2zM717,593.0h2v1.2h-2zM719,593.0h2v3.0h-2zM722,593.0h2v4.2h-2zM725,593.0h2v5.0h-2zM728,593.0h2v5.1h-2zM731,593.0h2v4.5h-2zM734,593.0h2v3.5h-2zM737,593.0h2v1.3h-2zM740,593.0h2v0.7h-2zM743,591.6h2v2.4h-2zM746,589.8h2v4.2h-2zM748,588.3h2v5.7h-2zM751,587.3h2v6.7h-2zM754,586.7h2v7.3h-2zM757,587.7h2v6.3h-2zM760,588.4h2v5.6h-2zM763,589.3h2v4.7h-2zM766,587.5h2v6.5h-2zM769,586.4h2v7.6h-2zM772,587.6h2v6.4h-2zM775,589.1h2v4.9h-2zM778,590.0h2v4.0h-2zM780,589.8h2v4.2h-2zM783,589.0h2v5.0h-2zM786,588.1h2v5.9h-2zM789,588.4h2v5.6h-2zM792,590.0h2v4.0h-2zM795,589.4h2v4.6h-2zM798,588.4h2v5.6h-2zM801,587.9h2v6.1h-2zM804,587.7h2v6.3h-2zM807,587.2h2v6.8h-2zM809,587.1h2v6.9h-2zM812,587.1h2v6.9h-2zM815,587.5h2v6.5h-2zM818,587.9h2v6.1h-2zM821,587.3h2v6.7h-2zM824,587.5h2v6.5h-2zM827,588.3h2v5.7h-2zM830,591.1h2v2.9h-2zM833,593.0h2v1.7h-2zM836,593.0h2v3.9h-2zM838,593.0h2v5.9h-2zM841,593.0h2v7.5h-2zM844,593.0h2v8.6h-2zM847,593.0h2v9.5h-2zM850,593.0h2v10.3h-2zM853,593.0h2v11.3h-2zM856,593.0h2v11.8h-2zM859,593.0h2v11.4h-2zM862,593.0h2v9.0h-2zM865,593.0h2v5.8h-2zM868,593.0h2v2.9h-2zM870,593.0h2v0.7h-2zM873,592.0h2v2.0h-2zM876,591.7h2v2.3h-2zM879,592.3h2v1.7h-2zM882,593.0h2v0.8h-2zM885,593.0h2v1.9h-2zM888,593.0h2v1.7h-2zM891,593.0h2v0.7h-2zM894,590.9h2v3.1h-2zM897,588.0h2v6.0h-2zM899,585.7h2v8.3h-2zM902,584.3h2v9.7h-2zM905,584.3h2v9.7h-2zM908,585.7h2v8.3h-2zM911,587.5h2v6.5h-2zM914,588.8h2v5.2h-2zM917,589.7h2v4.3h-2zM920,590.6h2v3.4h-2zM923,592.0h2v2.0h-2zM926,593.0h2v0.8h-2zM928,593.0h2v0.9h-2zM931,593.0h2v0.7h-2zM934,592.3h2v1.7h-2zM937,590.5h2v3.5h-2zM940,588.5h2v5.5h-2zM943,587.6h2v6.4h-2zM946,587.1h2v6.9h-2zM949,587.1h2v6.9h-2zM952,587.4h2v6.6h-2zM955,589.2h2v4.8h-2zM958,588.4h2v5.6h-2zM960,587.6h2v6.4h-2zM963,588.1h2v5.9h-2zM966,588.4h2v5.6h-2zM969,590.3h2v3.7h-2zM972,592.2h2v1.8h-2zM975,593.0h2v1.4h-2zM978,593.0h2v2.4h-2zM981,593.0h2v2.2h-2zM984,593.0h2v1.7h-2zM987,593.0h2v2.8h-2zM989,593.0h2v4.7h-2zM992,593.0h2v6.9h-2zM995,593.0h2v7.8h-2zM998,593.0h2v6.3h-2zM1001,593.0h2v4.7h-2zM1004,593.0h2v3.2h-2zM1007,593.0h2v1.8h-2zM1010,593.0h2v1.1h-2zM1013,593.0h2v0.7h-2zM1016,593.0h2v0.8h-2zM1018,593.0h2v1.2h-2zM1021,593.0h2v0.7h-2zM1024,592.3h2v1.7h-2zM1027,592.1h2v1.9h-2zM1030,592.1h2v1.9h-2zM1033,592.1h2v1.9h-2zM1036,592.3h2v1.7h-2zM1039,592.3h2v1.7h-2zM1042,593.0h2v1.0h-2zM1045,593.0h2v2.4h-2zM1048,593.0h2v4.4h-2zM1050,593.0h2v6.4h-2zM1053,593.0h2v7.9h-2zM1056,593.0h2v8.8h-2zM1059,593.0h2v7.4h-2zM1062,593.0h2v5.6h-2zM1065,593.0h2v4.1h-2zM1068,593.0h2v3.2h-2zM1071,593.0h2v2.8h-2zM1074,593.0h2v3.4h-2zM1077,593.0h2v4.8h-2zM1079,593.0h2v5.5h-2zM1082,593.0h2v4.4h-2zM1085,593.0h2v3.0h-2zM1088,593.0h2v1.5h-2zM1091,592.3h2v1.7h-2zM1094,590.9h2v3.1h-2zM1097,588.8h2v5.2h-2zM1100,586.2h2v7.8h-2zM1103,584.3h2v9.7h-2zM1106,583.2h2v10.8h-2zM1108,583.0h2v11.0h-2zM1111,583.5h2v10.5h-2zM1114,584.5h2v9.5h-2zM1117,585.8h2v8.2h-2zM1120,585.5h2v8.5h-2zM1123,583.4h2v10.6h-2zM1126,581.7h2v12.3h-2zM1129,580.5h2v13.5h-2zM1132,579.7h2v14.3h-2zM1135,578.9h2v15.1h-2zM1138,578.1h2v15.9h-2zM1140,576.6h2v17.4h-2zM1143,575.4h2v18.6h-2zM1146,575.6h2v18.4h-2zM1149,576.6h2v17.4h-2zM1152,578.1h2v15.9h-2zM1155,579.1h2v14.9h-2zM1158,583.3h2v10.7h-2zM1161,588.1h2v5.9h-2zM1164,591.5h2v2.5h-2zM1167,593.0h2v2.0h-2zM1169,593.0h2v6.0h-2zM1172,593.0h2v7.1h-2zM1175,593.0h2v8.8h-2zM1178,593.0h2v10.6h-2zM1181,593.0h2v12.1h-2zM1184,593.0h2v12.8h-2zM1187,593.0h2v11.8h-2zM1190,593.0h2v11.3h-2zM1193,593.0h2v11.2h-2zM1196,593.0h2v12.4h-2zM1198,593.0h2v13.8h-2zM1201,593.0h2v15.3h-2zM1204,593.0h2v16.2h-2zM1207,593.0h2v16.3h-2zM1210,593.0h2v16.5h-2zM1213,593.0h2v16.5h-2zM1216,593.0h2v16.2h-2zM1219,593.0h2v15.7h-2zM1222,593.0h2v16.5h-2zM1225,593.0h2v18.3h-2z" fill="#fb7efb" shape-rendering="crispEdges"/>
<path d="M6.4,583.1C8.0,582.4 15.4,579.7 18.4,578.1C21.3,576.5 26.9,572.1 29.4,570.8C31.9,569.5 35.5,568.2 37.6,568.0C39.8,567.9 43.6,569.0 45.9,569.9C48.2,570.7 52.4,572.9 55.1,574.5C57.7,576.0 63.2,580.0 66.1,581.8C68.9,583.6 74.5,587.0 77.1,588.2C79.7,589.4 83.6,590.9 86.3,591.0C88.9,591.1 94.4,589.6 97.3,589.1C100.1,588.7 105.4,587.4 108.3,587.3C111.2,587.2 116.4,588.0 119.3,588.6C122.2,589.2 127.7,591.2 130.3,591.9C132.9,592.6 136.9,594.0 139.5,594.1C142.1,594.2 147.7,593.2 150.5,592.8C153.4,592.4 158.9,591.0 161.5,591.0C164.2,591.0 168.6,591.7 170.7,592.8C172.9,593.9 176.1,597.0 178.0,599.2C180.0,601.5 183.5,607.4 185.4,610.3C187.3,613.1 190.8,618.8 192.7,621.3C194.6,623.8 198.2,628.0 200.1,629.5C202.0,631.1 205.5,632.7 207.4,633.2C209.3,633.7 212.4,633.7 214.8,633.2C217.1,632.7 222.9,630.6 225.8,629.5C228.6,628.5 234.9,625.7 236.8,624.9C238.6,624.2 238.6,625.0 240.0,624.0C241.4,623.1 245.2,619.5 247.3,617.6C249.5,615.7 254.1,611.2 256.5,609.3C258.9,607.4 263.3,604.3 265.7,602.9C268.1,601.5 272.3,599.4 274.9,598.3C277.5,597.3 282.8,595.6 285.9,594.7C289.0,593.7 295.4,592.1 298.7,591.0C302.1,589.9 308.5,587.7 311.6,586.4C314.7,585.1 320.2,581.9 322.6,580.9C325.0,579.9 328.0,578.7 329.9,578.5C331.9,578.3 335.1,578.5 337.3,579.1C339.4,579.6 343.8,581.9 346.5,582.7C349.1,583.6 354.6,584.7 357.5,585.5C360.3,586.2 365.9,587.8 368.5,588.6C371.1,589.4 375.3,591.0 377.7,591.5C380.1,592.1 384.5,593.0 386.8,592.8C389.2,592.6 393.2,590.7 396.0,590.1C398.9,589.4 405.3,588.2 408.9,587.9C412.4,587.5 419.7,587.5 423.6,587.3C427.4,587.1 434.7,586.8 438.2,586.4C441.8,586.0 447.7,585.0 451.1,584.6C454.4,584.1 460.4,583.4 463.9,582.7C467.5,582.0 476.5,579.5 478.6,579.1C480.7,578.6 478.6,579.8 480.0,579.1C481.4,578.3 486.8,575.3 489.2,573.5C491.6,571.8 496.0,567.0 498.4,565.3C500.7,563.6 505.4,561.1 507.5,560.3C509.7,559.5 512.7,559.1 514.9,559.2C517.0,559.4 521.4,560.6 524.1,561.6C526.7,562.6 532.2,565.5 535.1,567.1C537.9,568.8 543.5,572.9 546.1,574.5C548.7,576.0 552.9,578.4 555.3,579.1C557.6,579.7 561.6,579.3 564.4,579.4C567.3,579.5 574.4,580.2 577.3,580.0C580.1,579.7 584.1,578.4 586.5,577.6C588.8,576.7 593.5,573.7 595.6,573.5C597.8,573.4 600.8,574.9 603.0,576.3C605.1,577.7 609.8,582.3 612.2,584.6C614.5,586.8 619.2,591.8 621.3,593.7C623.5,595.6 627.0,598.5 628.7,599.2C630.3,600.0 632.5,599.9 634.2,599.6C635.9,599.3 639.1,597.8 641.5,597.0C643.9,596.3 649.7,594.7 652.5,594.1C655.4,593.6 660.7,593.5 663.6,592.8C666.4,592.1 671.9,589.9 674.6,588.6C677.2,587.3 681.4,584.2 683.7,583.1C686.1,582.0 690.5,580.3 692.9,580.0C695.3,579.7 699.7,580.5 702.1,580.9C704.5,581.3 709.0,582.6 711.3,583.1C713.6,583.6 718.8,584.4 720.0,584.6C721.2,584.8 719.3,584.0 720.5,584.6C721.6,585.2 726.9,588.1 729.2,589.1C731.5,590.2 736.0,592.0 738.4,592.3C740.7,592.5 744.9,591.6 747.5,591.0C750.2,590.3 755.4,588.3 758.5,587.3C761.6,586.3 768.1,584.0 771.4,583.1C774.7,582.2 780.9,581.2 784.2,580.5C787.6,579.8 793.8,578.6 797.1,577.6C800.4,576.6 806.6,573.9 809.9,572.6C813.3,571.4 820.0,568.9 822.8,568.0C825.5,567.2 828.9,566.1 831.0,566.2C833.2,566.3 837.0,567.8 839.3,569.0C841.6,570.2 846.3,573.6 848.5,575.4C850.6,577.2 853.9,580.9 855.8,582.7C857.7,584.5 861.3,587.9 863.2,589.1C865.1,590.4 868.4,591.9 870.5,592.3C872.7,592.7 877.3,592.1 879.7,592.3C882.1,592.4 886.5,593.5 888.9,593.4C891.3,593.2 895.7,591.9 898.0,591.0C900.4,590.1 904.8,587.4 907.2,586.4C909.6,585.4 914.0,583.7 916.4,583.1C918.8,582.5 923.1,581.8 925.6,581.8C928.1,581.8 933.1,583.3 935.7,583.1C938.3,582.9 943.0,580.9 945.8,580.0C948.5,579.1 954.9,576.9 956.8,576.3C958.6,575.7 957.9,575.5 960.0,575.0C962.1,574.5 969.5,572.3 972.8,572.3C976.2,572.3 982.8,574.0 985.7,575.0C988.6,576.0 992.5,578.8 994.9,580.0C997.3,581.2 1001.2,583.3 1004.1,584.2C1006.9,585.1 1013.1,586.4 1016.9,586.8C1020.7,587.2 1029.8,587.0 1033.4,587.3C1037.0,587.6 1041.8,588.3 1044.4,589.1C1047.1,590.0 1051.2,592.3 1053.6,593.7C1056.0,595.2 1060.2,598.9 1062.8,600.2C1065.4,601.4 1071.2,602.3 1073.8,603.3C1076.4,604.2 1080.8,606.7 1083.0,607.5C1085.1,608.3 1088.4,609.6 1090.3,609.7C1092.2,609.8 1095.5,609.3 1097.7,608.4C1099.8,607.5 1104.5,604.5 1106.8,602.9C1109.2,601.4 1113.6,598.0 1116.0,596.5C1118.4,594.9 1122.8,592.9 1125.2,591.0C1127.6,589.1 1132.0,584.6 1134.4,581.8C1136.8,579.1 1141.2,573.0 1143.6,569.9C1145.9,566.8 1150.6,560.2 1152.7,557.9C1154.9,555.7 1158.4,553.2 1160.1,552.4C1161.7,551.7 1163.9,551.5 1165.6,551.9C1167.3,552.2 1170.8,553.7 1172.9,555.2C1175.1,556.7 1179.7,561.1 1182.1,563.5C1184.5,565.8 1188.9,570.8 1191.3,573.5C1193.7,576.3 1198.0,581.5 1200.5,584.6C1202.9,587.7 1208.3,595.0 1210.0,597.4C1211.7,599.8 1211.8,599.9 1213.9,602.7C1216.0,605.5 1224.4,617.1 1226.0,619.3" fill="none" stroke="#00e000" stroke-width="1.15" stroke-linejoin="round"/>
<path d="M6.4,579.1C7.6,578.7 13.3,577.6 15.6,576.3C17.9,575.0 21.7,570.7 23.9,569.0C26.0,567.2 30.5,563.1 32.1,562.5C33.8,561.9 34.7,562.6 36.7,564.4C38.7,566.2 44.4,573.3 47.7,576.3C51.1,579.3 59.1,585.2 62.4,587.3C65.7,589.5 70.6,591.9 73.4,592.8C76.3,593.7 81.6,594.7 84.4,594.1C87.3,593.5 92.6,589.4 95.4,588.2C98.3,587.1 103.8,585.6 106.5,585.5C109.1,585.4 113.0,586.2 115.6,587.3C118.3,588.4 124.1,592.3 126.7,593.7C129.2,595.2 132.5,598.3 134.9,598.3C137.3,598.3 142.5,594.9 145.0,593.7C147.5,592.5 151.9,589.8 154.2,589.1C156.5,588.5 160.5,588.1 162.4,588.8C164.4,589.5 167.2,592.8 168.9,594.7C170.5,596.5 173.7,599.9 175.3,602.9C176.8,605.9 179.2,614.0 180.8,617.6C182.4,621.2 185.7,627.8 187.2,630.4C188.8,633.1 191.4,636.4 192.7,637.8C194.0,639.2 195.9,641.0 197.3,641.1C198.8,641.2 202.0,639.7 203.7,638.7C205.5,637.7 208.9,634.6 211.1,633.2C213.2,631.8 217.9,629.0 220.3,627.7C222.7,626.4 227.1,624.3 229.4,623.1C231.8,621.9 236.5,620.2 238.6,618.5C240.7,616.8 243.9,612.4 245.5,610.3C247.1,608.1 249.6,603.4 251.0,602.0C252.4,600.6 254.8,600.2 256.5,599.6C258.2,599.0 261.7,598.2 263.9,597.4C266.0,596.6 270.7,594.3 273.0,593.7C275.4,593.2 279.8,593.8 282.2,593.4C284.6,592.9 289.0,591.0 291.4,590.1C293.8,589.2 297.9,587.6 300.6,586.4C303.2,585.2 308.6,582.5 311.6,580.9C314.6,579.3 321.2,574.9 323.5,574.1C325.8,573.3 327.5,574.4 329.0,575.0C330.6,575.7 333.4,577.5 335.4,579.1C337.5,580.7 342.2,586.2 344.6,587.3C347.0,588.5 351.5,587.7 353.8,587.9C356.1,588.0 359.9,588.0 362.1,588.6C364.2,589.2 368.3,592.0 370.3,592.8C372.4,593.6 375.8,594.6 377.7,594.7C379.6,594.7 383.3,594.0 385.0,593.4C386.7,592.7 388.6,590.5 390.5,589.7C392.4,588.9 397.5,587.9 399.7,587.3C401.8,586.8 404.9,585.5 407.0,585.5C409.2,585.5 414.1,587.1 416.2,587.3C418.4,587.6 421.8,587.6 423.6,587.3C425.3,587.1 428.3,585.5 430.0,585.5C431.6,585.4 434.4,587.0 436.4,586.8C438.4,586.5 442.8,584.0 445.6,583.6C448.3,583.2 454.6,584.3 457.5,583.6C460.4,583.0 464.9,579.3 467.6,578.5C470.4,577.7 477.0,577.5 478.6,577.2C480.2,576.9 478.6,577.6 480.0,576.3C481.4,575.0 486.8,569.9 489.2,567.1C491.6,564.3 496.2,556.5 498.4,554.8C500.5,553.2 503.8,554.0 505.7,554.3C507.6,554.6 510.9,555.5 513.0,557.0C515.2,558.5 519.8,564.0 522.2,565.8C524.6,567.6 528.8,569.0 531.4,570.8C534.0,572.6 539.5,577.6 542.4,579.4C545.3,581.2 550.8,584.6 553.4,584.6C556.0,584.5 559.7,579.5 562.6,579.1C565.5,578.6 572.8,581.1 575.4,580.9C578.1,580.7 580.9,579.0 582.8,577.6C584.7,576.2 588.6,571.1 590.1,569.9C591.7,568.7 593.5,567.6 594.7,568.4C595.9,569.2 597.8,573.5 599.3,576.3C600.9,579.1 604.7,587.1 606.7,590.1C608.6,593.0 612.3,597.5 614.0,599.2C615.7,601.0 617.9,602.3 619.5,603.3C621.1,604.3 624.5,607.1 625.9,607.1C627.4,607.2 629.2,605.2 630.5,603.8C631.8,602.4 634.6,598.0 636.0,596.5C637.5,595.0 640.2,592.7 641.5,592.3C642.8,591.9 644.8,593.5 646.1,593.4C647.4,593.2 650.0,591.0 651.6,591.0C653.3,591.0 657.2,593.3 659.0,593.4C660.8,593.4 663.6,592.7 665.4,591.5C667.2,590.4 670.8,586.2 672.7,584.6C674.6,582.9 677.7,580.2 680.1,579.1C682.5,577.9 688.7,575.5 691.1,575.7C693.5,576.0 696.4,579.4 698.4,580.9C700.5,582.3 704.7,586.5 706.7,586.9C708.7,587.4 712.3,584.0 714.0,584.2C715.8,584.4 719.2,587.7 720.0,588.2C720.8,588.8 719.5,587.5 720.5,588.2C721.4,589.0 725.6,593.0 727.3,594.1C729.1,595.2 732.2,597.0 733.8,597.0C735.3,597.1 737.5,595.6 739.3,594.7C741.1,593.7 745.4,591.1 747.5,589.7C749.7,588.3 753.6,584.5 755.8,583.6C757.9,582.8 762.1,583.7 764.1,583.1C766.0,582.4 769.0,579.1 770.5,578.7C771.9,578.3 773.4,579.9 775.1,580.0C776.7,580.0 781.7,579.6 783.3,579.1C785.0,578.5 786.6,576.0 787.9,575.7C789.2,575.5 791.8,577.3 793.4,576.9C795.1,576.4 798.9,573.5 800.8,572.6C802.7,571.7 806.2,570.7 808.1,569.9C810.0,569.1 813.9,567.2 815.4,566.6C817.0,566.0 818.7,565.8 820.0,565.3C821.3,564.8 824.2,563.0 825.5,562.9C826.9,562.8 828.8,563.3 830.1,564.4C831.4,565.5 834.2,569.8 835.6,571.3C837.1,572.9 839.5,574.5 841.1,576.3C842.8,578.1 846.7,582.8 848.5,584.9C850.3,587.1 853.4,591.0 854.9,592.8C856.5,594.7 859.0,598.5 860.4,599.2C861.9,600.0 864.4,599.2 865.9,598.3C867.5,597.4 870.8,593.3 872.3,592.3C873.9,591.2 876.4,589.9 877.9,590.1C879.3,590.2 882.1,592.7 883.4,593.4C884.7,594.0 886.5,595.5 888.0,595.2C889.4,594.9 892.6,592.6 894.4,591.0C896.2,589.4 899.8,584.8 901.7,583.1C903.6,581.4 907.4,578.5 909.1,578.1C910.7,577.7 913.4,579.9 914.6,580.0C915.8,580.1 916.8,578.7 918.2,579.1C919.7,579.4 923.4,581.7 925.6,582.4C927.7,583.0 932.6,584.8 934.8,584.2C936.9,583.6 940.2,579.0 942.1,577.6C944.0,576.2 947.7,574.0 949.4,573.5C951.2,573.1 954.5,574.3 955.9,573.9C957.2,573.6 959.4,571.1 960.0,570.8C960.6,570.5 959.1,571.5 960.5,571.3C961.8,571.2 967.6,568.6 970.1,569.5C972.5,570.4 977.4,577.2 979.3,578.1C981.2,579.1 983.2,576.1 984.8,576.9C986.3,577.6 989.7,582.0 991.2,583.6C992.8,585.2 995.2,588.4 996.7,589.1C998.3,589.9 1001.5,589.4 1003.1,589.1C1004.8,588.9 1007.3,587.3 1009.6,587.3C1011.8,587.3 1017.5,589.2 1020.6,589.1C1023.7,589.1 1030.8,586.9 1033.4,586.9C1036.0,586.9 1038.9,588.1 1040.8,589.1C1042.7,590.2 1046.2,592.9 1048.1,594.7C1050.0,596.4 1053.5,601.3 1055.4,602.9C1057.4,604.5 1060.6,606.9 1062.8,607.1C1064.9,607.4 1070.2,604.6 1072.0,604.8C1073.8,604.9 1075.4,607.3 1076.6,608.4C1077.7,609.5 1079.8,612.3 1081.1,613.0C1082.5,613.7 1085.0,614.5 1086.7,613.9C1088.3,613.3 1092.1,610.3 1094.0,608.4C1095.9,606.5 1099.4,601.3 1101.3,599.2C1103.2,597.2 1106.9,594.1 1108.7,592.8C1110.5,591.5 1113.7,589.7 1115.1,589.1C1116.5,588.6 1118.1,589.5 1119.7,588.2C1121.2,586.9 1125.1,581.6 1127.0,579.1C1128.9,576.5 1132.5,571.6 1134.4,569.0C1136.3,566.3 1139.8,561.7 1141.7,558.9C1143.6,556.0 1147.9,549.1 1149.1,547.3C1150.3,545.5 1150.7,545.7 1151.3,545.2C1151.9,544.7 1153.4,544.0 1154.0,543.6C1154.6,543.2 1155.4,541.7 1156.2,542.0C1157.0,542.3 1159.0,544.8 1160.0,545.8C1161.0,546.8 1162.8,548.9 1163.7,549.8C1164.6,550.7 1166.2,551.7 1167.2,553.1C1168.2,554.5 1169.6,558.6 1171.1,560.7C1172.5,562.8 1176.5,566.5 1178.4,569.0C1180.3,571.5 1183.9,577.7 1185.8,580.0C1187.7,582.2 1191.2,584.1 1193.1,586.4C1195.0,588.7 1198.5,594.4 1200.5,597.4C1202.4,600.4 1206.6,607.0 1207.8,609.3C1209.0,611.7 1208.3,613.5 1209.7,615.5C1211.1,617.5 1216.4,623.2 1218.2,625.0C1220.0,626.8 1222.5,627.7 1223.5,629.2C1224.5,630.7 1225.7,635.7 1226.0,636.7" fill="none" stroke="#f2e200" stroke-width="1.15" stroke-linejoin="round"/>
<rect x="3.5" y="1.5" width="8" height="8" fill="#18b4b8" stroke="#fff" stroke-width="1"/>
<text y="9.6" font-size="10.5" fill="#f4f4f4"><tspan x="16.2" textLength="53.6" lengthAdjust="spacingAndGlyphs">Volkswagen</tspan><tspan x="74.2" textLength="10.8" lengthAdjust="spacingAndGlyphs">Vz</tspan><tspan x="88.7" textLength="34.2" lengthAdjust="spacingAndGlyphs">(Xetra)</tspan></text>
<text y="488.5" font-size="10.5" fill="#6e6e6e"><tspan x="7.19" textLength="42.0" lengthAdjust="spacingAndGlyphs">05.09.07</tspan><tspan x="54.00">–</tspan><tspan x="62.55" textLength="42.0" lengthAdjust="spacingAndGlyphs">21.09.15</tspan><tspan x="112.70">1</tspan><tspan x="123.10" textLength="16.4" lengthAdjust="spacingAndGlyphs">Tick</tspan><tspan x="142.70" textLength="4.9" lengthAdjust="spacingAndGlyphs">=</tspan><tspan x="150.10">1</tspan><tspan x="160.10" textLength="30.9" lengthAdjust="spacingAndGlyphs">Woche</tspan></text>
<text x="53" y="508.6" font-size="10.8" fill="#f4f4f4" text-anchor="middle">2008</text>
<text x="204" y="508.6" font-size="10.8" fill="#f4f4f4" text-anchor="middle">2009</text>
<text x="355" y="508.6" font-size="10.8" fill="#f4f4f4" text-anchor="middle">2010</text>
<text x="506" y="508.6" font-size="10.8" fill="#f4f4f4" text-anchor="middle">2011</text>
<text x="657" y="508.6" font-size="10.8" fill="#f4f4f4" text-anchor="middle">2012</text>
<text x="810" y="508.6" font-size="10.8" fill="#f4f4f4" text-anchor="middle">2013</text>
<text x="961" y="508.6" font-size="10.8" fill="#f4f4f4" text-anchor="middle">2014</text>
<text x="1112" y="508.6" font-size="10.8" fill="#f4f4f4" text-anchor="middle">2015</text>
<rect x="6.5" y="516.5" width="8" height="8" fill="#ffff00" stroke="#fff" stroke-width="1"/>
<text x="19.8" y="525.2" font-size="10.5" fill="#f4f4f4" textLength="116.5" lengthAdjust="spacingAndGlyphs">MACD (26, 12): −16,511</text>
<rect x="165.5" y="516.5" width="8" height="8" fill="#00f000" stroke="#fff" stroke-width="1"/>
<text x="178.6" y="525.2" font-size="10.5" fill="#f4f4f4" textLength="82.5" lengthAdjust="spacingAndGlyphs">EXP (9): −9,8606</text>
<rect x="289.5" y="516.5" width="8" height="8" fill="#fb7efb" stroke="#fff" stroke-width="1"/>
<text x="302.4" y="525.2" font-size="10.5" fill="#f4f4f4" textLength="85" lengthAdjust="spacingAndGlyphs">Divergence: −6,65</text>
<text x="1228.5" y="160.8" font-size="10.8" fill="#f4f4f4">200</text>
<text x="1228.5" y="267.3" font-size="10.8" fill="#f4f4f4">100</text>
<text x="1228.5" y="374.3" font-size="10.8" fill="#f4f4f4">50</text>
<text x="1231" y="542.5" font-size="10.8" fill="#f4f4f4">20</text>
<text x="1231" y="569.3" font-size="10.8" fill="#f4f4f4">10</text>
<text x="1231" y="596.5" font-size="10.8" fill="#f4f4f4">0</text>
<text x="1231" y="624.6" font-size="10.8" fill="#f4f4f4">−10</text>
<text x="1231" y="651.6" font-size="10.8" fill="#f4f4f4">−20</text>
<text x="708.5" y="254.6" font-size="14" font-weight="bold" fill="#b4c81e">116</text>
<text x="824" y="223.8" font-size="14" font-weight="bold" fill="#fff">136 ,6</text>
<text x="1047" y="211.5" font-size="14" font-weight="bold" fill="#fff">147</text>
<text x="947.5" y="387.7" font-size="15" font-weight="bold" fill="#ff00dc" textLength="197.5" lengthAdjust="spacingAndGlyphs">an der roten Geraden heute</text>
<text x="947.5" y="405.8" font-size="15" font-weight="bold" fill="#ff00dc" textLength="205.5" lengthAdjust="spacingAndGlyphs">erstmal eingebremst worden.</text>
<text x="1260" y="589.6" font-size="15" font-weight="bold" fill="#fff">stark</text>
<text x="1260" y="607.4" font-size="15" font-weight="bold" fill="#fff" textLength="91.8" lengthAdjust="spacingAndGlyphs">überverkauft</text>
<path d="M1197.4,229.4 Q1207,233 1214.8,234.2 T1225.5,234.2 Q1231,232.5 1233,230.5 L1246,219.4" fill="none" stroke="#fff" stroke-width="1"/>
<ellipse cx="1222.8" cy="227.4" rx="11.8" ry="10.6" fill="none" stroke="#ff00dc" stroke-width="3"/>
<path d="M1227.3,238.5 C1238,250 1251,275 1251,293.3 C1251,320 1230,338 1212,356 C1198,370 1185,382 1170.7,395" fill="none" stroke="#ff00dc" stroke-width="3" stroke-linecap="round"/>
<ellipse cx="206.7" cy="632.8" rx="27" ry="25.3" fill="none" stroke="#fff" stroke-width="3"/>
<ellipse cx="1232.8" cy="624.8" rx="28.4" ry="25.2" fill="none" stroke="#fff" stroke-width="3"/>
<rect x="1359" y="0" width="3" height="660" fill="#fff"/>
<rect x="0" y="659" width="1362" height="1" fill="#fff"/>
</svg>
</body></html>
